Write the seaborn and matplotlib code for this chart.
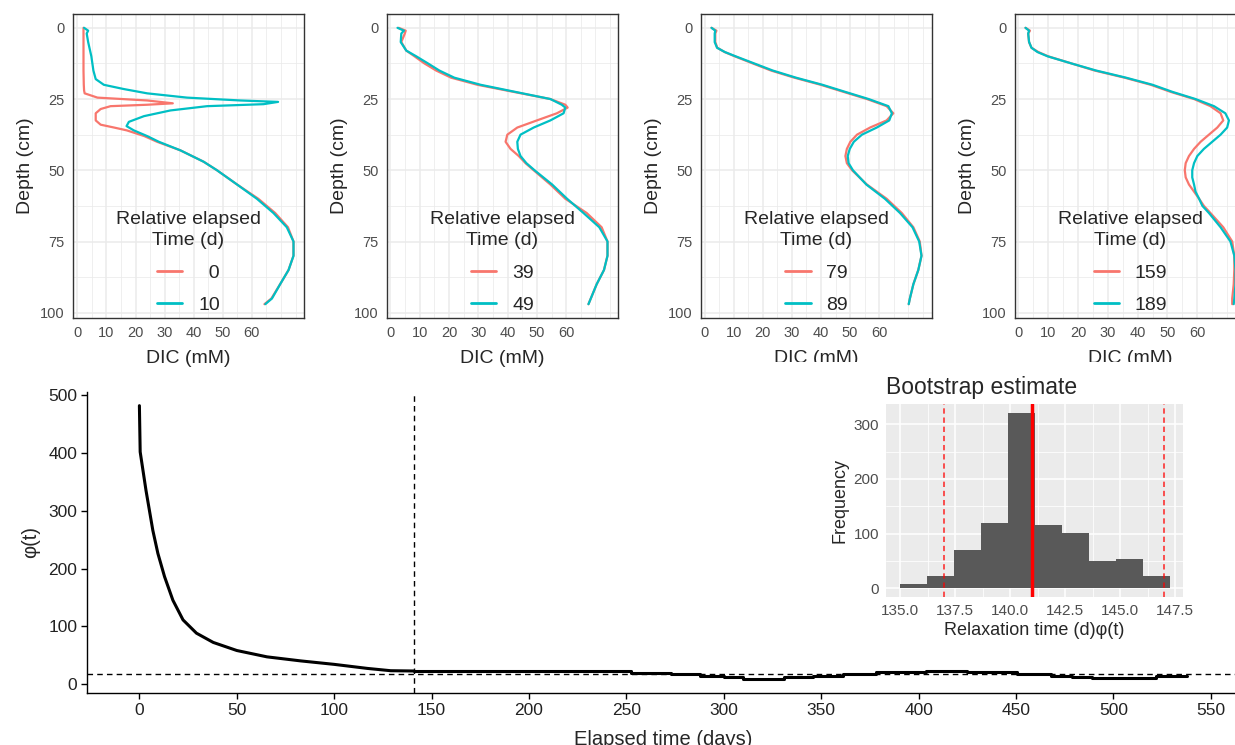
import numpy as np
import pandas as pd
import matplotlib
matplotlib.use("Agg")
import matplotlib.pyplot as plt
import seaborn as sns
from matplotlib.patches import Rectangle
from matplotlib.ticker import MultipleLocator, FormatStrFormatter

# ---------------- data ----------------
# Panel 1 (0 d vs 10 d)
p1a_label = "  0"
p1a_depth = [0, 5, 10, 15, 20, 22, 23, 24.5, 25.5, 26.5, 27, 27.5, 28.5, 30, 32.5, 34, 35, 36, 38, 40,
             43, 47, 50, 55, 60, 65, 70, 75, 80, 85, 90, 95, 97]
p1a_dic = [2.1, 2.1, 2.1, 2.1, 2.2, 2.3, 2.5, 6.9, 24, 32.8, 24, 11.4, 8, 6.3, 6.3, 8, 12.6, 17, 23, 27.4,
           35.4, 43.4, 48, 54.9, 62.2, 68, 72.4, 74.3, 74.3, 72.6, 69.7, 66.7, 64.3]
p1b_label = "10"
p1b_depth = [0, 1, 2, 5, 10, 15, 18, 20, 21.5, 23, 24.5, 25.5, 26, 26.8, 27.5, 29, 31, 33, 34.5, 36, 38, 40,
             43, 47, 50, 55, 60, 65, 70, 75, 80, 85, 90, 95, 97]
p1b_dic = [2.3, 3.7, 3.2, 3.7, 4.8, 5.5, 6.3, 9.1, 16, 24, 37.7, 56, 69, 64, 44.6, 32, 22.9, 17.7, 16.9, 19.4, 24, 28,
           35.4, 43.4, 48, 54.9, 61.7, 67.4, 72, 74.3, 74.3, 72.6, 69.7, 66.9, 64.6]

# Panel 2 (39 d vs 49 d)
p2_depth = [0, 1, 2, 5, 8, 10, 12.5, 15, 17.5, 20, 22.5, 25, 27, 28, 30, 32.5, 35, 37.5, 40, 42.5, 45, 47.5,
            50, 55, 60, 65, 70, 75, 80, 85, 90, 95, 97]
p2a_label = "39"
p2a_dic = [2.8, 5.2, 4.9, 3.7, 5.4, 8.2, 11.6, 15.6, 20.7, 29.7, 42.1, 54.6, 59.7, 60.5, 56.8, 50, 43.3, 39.9,
           39.3, 41, 43.8, 46.1, 48.9, 54.6, 59.7, 67, 72.1, 74.1, 74.1, 72.9, 70.4, 68.4, 67.6]
p2b_label = "49"
p2b_dic = [2.4, 4.6, 3.7, 3.5, 5.4, 8.8, 12.8, 16.7, 21.8, 30.8, 42.7, 54.6, 58.5, 59.7, 59.1, 54.6, 48.9, 44.4,
           43.3, 43.5, 44.4, 46.4, 49.2, 55.2, 60.3, 65.9, 71.3, 74.1, 74.1, 72.9, 70.4, 68.4, 67.6]

# Panel 3 (79 d vs 89 d)
p3_depth = [0, 1, 2, 5, 7, 8.5, 10, 12.5, 15, 17.5, 20, 22.5, 25, 27.5, 30, 32.5, 35, 37.5, 40, 42.5, 45,
            47.5, 50, 55, 60, 65, 70, 75, 80, 85, 90, 95, 97]
p3a_label = "79"
p3a_dic = [2.3, 4.0, 3.6, 3.6, 4.3, 6.8, 10.3, 16.5, 22.8, 30.8, 39.9, 47.8, 55.8, 62.6, 64.9, 62.6, 56.9, 52.4,
           50.1, 48.9, 48.4, 48.9, 50.7, 55.8, 62.6, 67.8, 71.8, 74.0, 74.6, 73.5, 71.8, 70.6, 70.2]
p3b_label = "89"
p3b_dic = [2.3, 3.6, 3.4, 3.4, 4.2, 6.9, 10.6, 17.0, 23.4, 31.4, 40.5, 48.4, 56.4, 63.2, 64.4, 63.5, 59.2, 54.1,
           51.3, 49.9, 49.2, 49.5, 51.0, 55.6, 62.0, 67.2, 71.5, 73.8, 74.6, 73.5, 71.8, 70.6, 70.2]

# Panel 4 (159 d vs 189 d)
p4_depth = [0, 1, 2, 5, 7, 8.5, 10, 12.5, 15, 17.5, 20, 22.5, 25, 27.5, 30, 32.5, 35, 37.5, 40, 42.5, 45,
            47.5, 50, 52.5, 55, 57.5, 60, 62.5, 65, 70, 75, 80, 85, 90, 95, 97]
p4a_label = "159"
p4a_dic = [2.4, 3.9, 3.3, 3.6, 4.4, 6.7, 10.0, 17.8, 25.6, 35.6, 44.4, 51.1, 58.9, 64.4, 67.8, 68.7, 66.7, 63.9,
           61.1, 58.9, 57.2, 56.1, 55.8, 56.1, 57.2, 58.9, 60.6, 62.2, 64.4, 68.7, 71.7, 72.4, 72.4, 72.2, 71.7, 71.7]
p4b_label = "189"
p4b_dic = [2.4, 3.6, 3.3, 3.6, 4.4, 6.4, 9.8, 17.8, 26.1, 36.1, 45.0, 51.7, 59.4, 65.6, 69.4, 70.6, 70.0, 67.8,
           65.0, 62.2, 60.0, 58.9, 58.3, 58.3, 58.9, 59.4, 60.6, 61.7, 63.9, 67.8, 71.1, 72.4, 72.8, 72.8, 72.4, 72.2]

# Bottom: relaxation curve phi(t)
t_decay = [0, 0.4, 3.4, 6.9, 9.5, 12.9, 17.2, 22.4, 29.3, 37.9, 50, 65.5, 82.8, 100, 117, 129, 141]
phi_decay = [482, 402, 335, 266, 226, 186, 145, 111, 88, 72, 58, 47, 40, 34, 27, 23, 22.5]
t_tail = [141, 162.6, 252.4, 273, 288, 300, 310, 331, 346, 361, 378, 404, 425, 450.5, 468, 479, 489, 522, 538]
phi_tail = [22.5, 23, 19.6, 16.7, 14.4, 12, 9.2, 12, 14.4, 16.7, 20, 22.5, 20, 16.7, 14.4, 12, 9.8, 13.3, 13.3]
relax_time = 141
phi_equil = 18

# Inset: bootstrap histogram
boot_edges = [135.0, 136.22, 137.45, 138.67, 139.9, 141.12, 142.35, 143.57, 144.8, 146.02, 147.25]
boot_counts = [8, 22, 70, 120, 321, 115, 101, 49, 53, 22]
boot_estimate = 141.0
boot_ci = [137.0, 147.0]

# ---------------- style ----------------
sns.set_style("white")
plt.rcParams['font.family'] = ['Liberation Sans', 'DejaVu Sans']

W, H = 1235, 745
fig = plt.figure(figsize=(W / 100, H / 100), dpi=100)


def box(l, t, r, b):
    return [l / W, 1 - b / H, (r - l) / W, (b - t) / H]


RED = '#F8766D'
CYAN = '#00BFC4'

panels = [
    (p1a_depth, p1a_dic, p1a_label, p1b_depth, p1b_dic, p1b_label),
    (p2_depth, p2a_dic, p2a_label, p2_depth, p2b_dic, p2b_label),
    (p3_depth, p3a_dic, p3a_label, p3_depth, p3b_dic, p3b_label),
    (p4_depth, p4a_dic, p4a_label, p4_depth, p4b_dic, p4b_label),
]
lefts = [73, 387, 701, 1015]

for left, (da, xa, la, db, xb, lb) in zip(lefts, panels):
    ax = fig.add_axes(box(left, 14, left + 231, 318))
    ax.set_facecolor('white')
    sns.lineplot(x=xa, y=da, sort=False, estimator=None, color=RED, lw=1.6, label=la, ax=ax)
    sns.lineplot(x=xb, y=db, sort=False, estimator=None, color=CYAN, lw=1.6, label=lb, ax=ax)
    ax.margins(x=0.05, y=0.05)
    ax.invert_yaxis()
    ax.set_xticks(range(0, 61, 10))
    ax.xaxis.set_minor_locator(MultipleLocator(5))
    ax.set_yticks([0, 25, 50, 75, 100])
    ax.yaxis.set_minor_locator(MultipleLocator(12.5))
    ax.set_axisbelow(True)
    ax.grid(which='major', color='#EBEBEB', lw=1.1)
    ax.grid(which='minor', color='#EBEBEB', lw=0.55)
    ax.tick_params(which='major', length=3.5, width=1, color='#333333', labelcolor='#4D4D4D',
                   labelsize=10.5, pad=2.5)
    ax.tick_params(which='minor', length=0)
    for s in ax.spines.values():
        s.set_color('#333333')
        s.set_linewidth(1.0)
    ax.set_xlabel('DIC (mM)', fontsize=14, labelpad=7)
    ax.set_ylabel('Depth (cm)', fontsize=14, labelpad=4)
    leg = ax.legend(title='Relative elapsed\nTime (d)', loc='lower center', bbox_to_anchor=(0.5, -0.012),
                    frameon=False, fontsize=14, title_fontsize=14, handlelength=1.3,
                    handletextpad=0.8, labelspacing=0.75, borderaxespad=0.0)
    leg.get_title().set_multialignment('center')
    leg.get_title().set_linespacing(1.35)
    for h in leg.get_lines():
        h.set_linewidth(2)

# bottom main panel
axm = fig.add_axes(box(87, 392, 1239, 693))
axm.set_facecolor('white')
sns.lineplot(x=t_decay, y=phi_decay, sort=False, estimator=None, color='black', lw=2.2, ax=axm)
sns.lineplot(x=t_tail, y=phi_tail, sort=False, estimator=None, color='black', lw=2.2,
             drawstyle='steps-post', ax=axm)
axm.axvline(relax_time, color='black', lw=1.0, ls=(0, (4, 3)))
axm.axhline(phi_equil, color='black', lw=1.0, ls=(0, (4, 3)))
axm.set_xlim(-26.9, 564.5)
axm.set_ylim(-15.6, 505.7)
axm.set_xticks(range(0, 551, 50))
axm.set_yticks(range(0, 501, 100))
for side in ['top', 'right']:
    axm.spines[side].set_visible(False)
for side in ['left', 'bottom']:
    axm.spines[side].set_color('black')
    axm.spines[side].set_linewidth(1.0)
axm.tick_params(length=4, width=1, color='black', labelcolor='#222222', labelsize=12.5, pad=3,
                left=True, bottom=True)
axm.set_xlabel('Elapsed time (days)', fontsize=14.5, labelpad=9)
axm.set_ylabel('φ(t)', fontsize=14.5, labelpad=6)

# white background of the inset plot (covers what lies beneath it)
fig.add_artist(Rectangle((700 / W, 1 - 655 / H), (1235 - 700) / W, (655 - 362) / H,
                         transform=fig.transFigure, facecolor='white', edgecolor='none',
                         zorder=1.5))

# inset histogram
axi = fig.add_axes(box(886, 404, 1183, 597))
axi.set_zorder(3)
axi.set_facecolor('#EBEBEB')
centers = [(a + b) / 2 for a, b in zip(boot_edges[:-1], boot_edges[1:])]
sns.histplot(x=centers, weights=boot_counts, bins=boot_edges, color='#595959', alpha=1,
             linewidth=0, ax=axi)
axi.axvline(boot_estimate, color='red', lw=2.5)
for c in boot_ci:
    axi.axvline(c, color='red', lw=1.1, ls=(0, (3.5, 2.5)), alpha=0.85)
axi.set_xlim(134.36, 147.86)
axi.set_ylim(-16, 337)
axi.set_xticks([135.0, 137.5, 140.0, 142.5, 145.0, 147.5])
axi.xaxis.set_major_formatter(FormatStrFormatter('%.1f'))
axi.xaxis.set_minor_locator(MultipleLocator(1.25))
axi.set_yticks([0, 100, 200, 300])
axi.yaxis.set_minor_locator(MultipleLocator(50))
axi.set_axisbelow(True)
axi.grid(which='major', color='white', lw=1.1)
axi.grid(which='minor', color='white', lw=0.55)
axi.tick_params(which='major', length=3, width=1, color='#333333', labelcolor='#4D4D4D',
                labelsize=11, pad=2)
axi.tick_params(which='minor', length=0)
for s in axi.spines.values():
    s.set_visible(False)
axi.set_xlabel('Relaxation time (d)φ(t)', fontsize=13, labelpad=3)
axi.set_ylabel('Frequency', fontsize=13, labelpad=4)
axi.set_title('Bootstrap estimate', loc='left', fontsize=16.5, pad=7)

fig.savefig('out.png', dpi=100)
